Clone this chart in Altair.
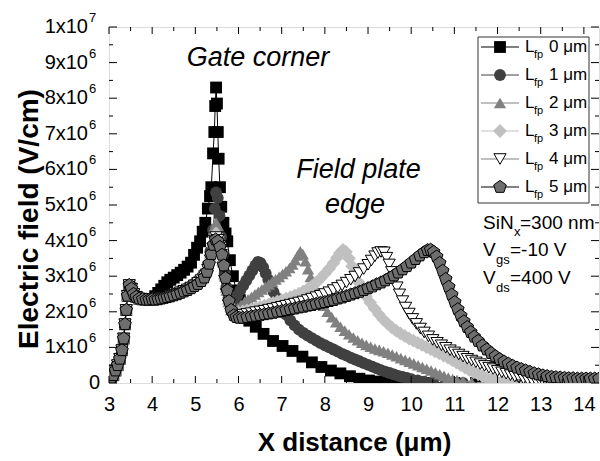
import altair as alt
import pandas as pd

# ---------------- data (electric field in units of 1e6 V/cm) ----------------
HEAD = [(3.0, 0.08), (3.05, 0.14), (3.1, 0.22), (3.15, 0.35), (3.2, 0.5), (3.25, 0.68),
        (3.3, 0.92), (3.34, 1.25), (3.37, 1.65), (3.4, 2.05), (3.43, 2.45), (3.47, 2.75),
        (3.52, 2.65), (3.57, 2.5), (3.63, 2.42), (3.7, 2.37), (3.78, 2.35), (3.86, 2.34),
        (3.93, 2.34), (4.0, 2.35)]

LFP0 = [(4.07, 2.44), (4.14, 2.53), (4.21, 2.63), (4.28, 2.73), (4.35, 2.83), (4.42, 2.9),
        (4.5, 2.96), (4.58, 3.03), (4.66, 3.1), (4.74, 3.18), (4.82, 3.27), (4.9, 3.38),
        (4.97, 3.6), (5.04, 3.8), (5.11, 3.98), (5.17, 4.25), (5.23, 4.5), (5.29, 4.9),
        (5.34, 5.25), (5.37, 5.5), (5.41, 6.45), (5.44, 7.05), (5.46, 7.78), (5.48, 8.3),
        (5.5, 7.85), (5.52, 7.05), (5.54, 6.3), (5.57, 5.5), (5.6, 4.95), (5.65, 4.5),
        (5.7, 4.2), (5.74, 3.98), (5.8, 3.45), (5.87, 3.0), (5.95, 2.6), (6.03, 2.33),
        (6.14, 1.95), (6.25, 1.75), (6.4, 1.58), (6.58, 1.38), (6.8, 1.18), (7.02, 1.04),
        (7.25, 0.9), (7.48, 0.74), (7.7, 0.58), (7.92, 0.45), (8.14, 0.35), (8.36, 0.27),
        (8.58, 0.19), (8.8, 0.12), (9.02, 0.07), (9.25, 0.04), (9.5, 0.02), (9.75, 0.01),
        (10.0, 0.0), (10.5, 0.0), (11.0, 0.0), (11.5, 0.0), (12.0, 0.0), (12.5, 0.0),
        (13.0, 0.0), (13.5, 0.0), (14.0, 0.0), (14.3, 0.0)]

LFP1 = [(4.07, 2.36), (4.14, 2.38), (4.21, 2.4), (4.28, 2.42), (4.35, 2.44), (4.42, 2.47),
        (4.5, 2.5), (4.58, 2.54), (4.66, 2.58), (4.74, 2.62), (4.82, 2.67), (4.9, 2.73),
        (4.98, 2.8), (5.06, 2.88), (5.14, 2.97), (5.22, 3.1), (5.29, 3.32), (5.35, 3.7),
        (5.41, 4.3), (5.45, 4.9), (5.48, 5.35), (5.52, 5.2), (5.56, 4.7), (5.6, 4.1),
        (5.64, 3.6), (5.68, 3.1), (5.72, 2.7), (5.77, 2.4), (5.83, 2.25), (5.9, 2.32),
        (5.97, 2.46), (6.04, 2.6), (6.11, 2.74), (6.18, 2.88), (6.25, 3.02), (6.32, 3.16),
        (6.39, 3.3), (6.45, 3.4), (6.51, 3.37), (6.57, 3.25), (6.63, 3.08), (6.69, 2.9),
        (6.75, 2.72), (6.81, 2.56), (6.88, 2.4), (6.95, 2.24), (7.02, 2.08), (7.1, 1.92),
        (7.2, 1.76), (7.3, 1.62), (7.4, 1.5), (7.5, 1.41), (7.6, 1.33), (7.7, 1.26),
        (7.8, 1.19), (7.9, 1.12), (8.0, 1.06), (8.1, 1.0), (8.2, 0.94), (8.3, 0.88),
        (8.4, 0.82), (8.5, 0.77), (8.6, 0.71), (8.7, 0.66), (8.8, 0.61), (8.9, 0.56),
        (9.0, 0.51), (9.1, 0.46), (9.2, 0.41), (9.3, 0.36), (9.4, 0.32), (9.5, 0.28),
        (9.6, 0.24), (9.7, 0.2), (9.8, 0.17), (9.9, 0.14), (10.0, 0.11), (10.15, 0.07),
        (10.3, 0.04), (10.5, 0.02), (10.8, 0.01), (11.2, 0.0), (11.8, 0.0), (12.5, 0.0),
        (13.2, 0.0), (14.0, 0.0), (14.3, 0.0)]

LFP2 = [(4.07, 2.36), (4.14, 2.37), (4.21, 2.39), (4.28, 2.41), (4.35, 2.43), (4.42, 2.46),
        (4.5, 2.49), (4.58, 2.53), (4.66, 2.57), (4.74, 2.61), (4.82, 2.66), (4.9, 2.72),
        (4.98, 2.79), (5.06, 2.87), (5.14, 2.96), (5.22, 3.08), (5.29, 3.28), (5.35, 3.6),
        (5.41, 4.05), (5.45, 4.4), (5.48, 4.5), (5.52, 4.42), (5.56, 4.15), (5.6, 3.8),
        (5.64, 3.4), (5.68, 3.0), (5.72, 2.6), (5.77, 2.28), (5.83, 2.05), (5.9, 2.0),
        (5.98, 2.1), (6.06, 2.2), (6.14, 2.28), (6.22, 2.35), (6.3, 2.42), (6.38, 2.49),
        (6.46, 2.56), (6.54, 2.63), (6.62, 2.7), (6.7, 2.77), (6.78, 2.84), (6.86, 2.91),
        (6.94, 2.98), (7.02, 3.06), (7.1, 3.14), (7.18, 3.23), (7.25, 3.33), (7.31, 3.45),
        (7.37, 3.58), (7.43, 3.7), (7.49, 3.62), (7.55, 3.42), (7.61, 3.2), (7.67, 2.98),
        (7.74, 2.76), (7.81, 2.55), (7.89, 2.35), (7.97, 2.17), (8.06, 2.0), (8.16, 1.85),
        (8.26, 1.71), (8.36, 1.58), (8.46, 1.47), (8.56, 1.37), (8.66, 1.28), (8.76, 1.2),
        (8.86, 1.13), (8.96, 1.07), (9.06, 1.02), (9.16, 0.97), (9.26, 0.93), (9.36, 0.89),
        (9.46, 0.85), (9.56, 0.8), (9.66, 0.75), (9.76, 0.7), (9.86, 0.65), (9.96, 0.6),
        (10.06, 0.55), (10.16, 0.5), (10.26, 0.45), (10.36, 0.4), (10.46, 0.35), (10.56, 0.3),
        (10.66, 0.25), (10.76, 0.2), (10.86, 0.15), (10.96, 0.11), (11.06, 0.08), (11.2, 0.05),
        (11.4, 0.02), (11.7, 0.01), (12.0, 0.0), (12.6, 0.0), (13.2, 0.0), (13.8, 0.0),
        (14.3, 0.0)]

LFP3 = [(4.07, 2.35), (4.14, 2.37), (4.21, 2.38), (4.28, 2.4), (4.35, 2.42), (4.42, 2.45),
        (4.5, 2.48), (4.58, 2.52), (4.66, 2.56), (4.74, 2.6), (4.82, 2.64), (4.9, 2.7),
        (4.98, 2.76), (5.06, 2.84), (5.14, 2.93), (5.22, 3.04), (5.29, 3.22), (5.35, 3.5),
        (5.41, 3.85), (5.45, 4.1), (5.48, 4.2), (5.52, 4.12), (5.56, 3.92), (5.6, 3.65),
        (5.64, 3.3), (5.68, 2.92), (5.72, 2.55), (5.77, 2.22), (5.83, 2.0), (5.9, 1.95),
        (6.0, 1.98), (6.1, 2.01), (6.2, 2.04), (6.3, 2.07), (6.4, 2.1), (6.5, 2.14),
        (6.6, 2.17), (6.7, 2.21), (6.8, 2.25), (6.9, 2.29), (7.0, 2.33), (7.1, 2.37),
        (7.2, 2.41), (7.3, 2.46), (7.4, 2.51), (7.5, 2.57), (7.6, 2.64), (7.7, 2.72),
        (7.8, 2.82), (7.9, 2.94), (8.0, 3.07), (8.1, 3.21), (8.2, 3.37), (8.28, 3.52),
        (8.35, 3.65), (8.42, 3.74), (8.49, 3.68), (8.56, 3.5), (8.63, 3.28), (8.7, 3.05),
        (8.78, 2.83), (8.86, 2.63), (8.95, 2.44), (9.05, 2.26), (9.15, 2.09), (9.25, 1.93),
        (9.35, 1.79), (9.45, 1.67), (9.55, 1.56), (9.65, 1.47), (9.75, 1.39), (9.85, 1.32),
        (9.95, 1.25), (10.05, 1.19), (10.15, 1.13), (10.25, 1.07), (10.35, 1.01), (10.45, 0.95),
        (10.55, 0.89), (10.65, 0.83), (10.75, 0.77), (10.85, 0.71), (10.95, 0.64), (11.05, 0.57),
        (11.15, 0.5), (11.25, 0.43), (11.35, 0.36), (11.45, 0.3), (11.55, 0.24), (11.65, 0.19),
        (11.75, 0.14), (11.85, 0.1), (11.95, 0.07), (12.1, 0.04), (12.3, 0.02), (12.6, 0.0),
        (13.0, 0.0), (13.5, 0.0), (14.0, 0.0), (14.3, 0.0)]

LFP4 = [(4.07, 2.35), (4.14, 2.36), (4.21, 2.38), (4.28, 2.4), (4.35, 2.42), (4.42, 2.44),
        (4.5, 2.47), (4.58, 2.51), (4.66, 2.55), (4.74, 2.59), (4.82, 2.63), (4.9, 2.68),
        (4.98, 2.74), (5.06, 2.81), (5.14, 2.89), (5.22, 3.0), (5.29, 3.18), (5.35, 3.45),
        (5.41, 3.78), (5.45, 4.0), (5.48, 4.1), (5.52, 4.02), (5.56, 3.85), (5.6, 3.6),
        (5.64, 3.25), (5.68, 2.88), (5.72, 2.5), (5.77, 2.18), (5.83, 1.96), (5.9, 1.89),
        (6.0, 1.9), (6.1, 1.92), (6.2, 1.94), (6.3, 1.96), (6.4, 1.99), (6.5, 2.01),
        (6.6, 2.03), (6.7, 2.06), (6.8, 2.08), (6.9, 2.11), (7.0, 2.14), (7.1, 2.17),
        (7.2, 2.2), (7.3, 2.23), (7.4, 2.26), (7.5, 2.29), (7.6, 2.33), (7.7, 2.37),
        (7.8, 2.41), (7.9, 2.45), (8.0, 2.5), (8.1, 2.55), (8.2, 2.61), (8.3, 2.67),
        (8.4, 2.74), (8.5, 2.82), (8.6, 2.9), (8.7, 2.99), (8.8, 3.09), (8.9, 3.2),
        (9.0, 3.32), (9.08, 3.44), (9.16, 3.56), (9.23, 3.65), (9.3, 3.68), (9.37, 3.67),
        (9.43, 3.52), (9.49, 3.33), (9.55, 3.12), (9.61, 2.9), (9.67, 2.69), (9.73, 2.49),
        (9.8, 2.3), (9.87, 2.12), (9.95, 1.95), (10.03, 1.8), (10.12, 1.66), (10.21, 1.53),
        (10.3, 1.42), (10.4, 1.31), (10.5, 1.21), (10.6, 1.13), (10.7, 1.06), (10.8, 0.99),
        (10.9, 0.92), (11.0, 0.86), (11.1, 0.8), (11.2, 0.74), (11.3, 0.68), (11.4, 0.63),
        (11.5, 0.58), (11.6, 0.53), (11.7, 0.48), (11.8, 0.43), (11.9, 0.39), (12.0, 0.34),
        (12.1, 0.3), (12.2, 0.26), (12.3, 0.22), (12.4, 0.18), (12.5, 0.15), (12.6, 0.12),
        (12.7, 0.09), (12.8, 0.07), (12.9, 0.05), (13.0, 0.03), (13.2, 0.02), (13.5, 0.01),
        (13.9, 0.0), (14.3, 0.0)]

LFP5 = [(4.07, 2.34), (4.14, 2.35), (4.21, 2.37), (4.28, 2.39), (4.35, 2.41), (4.42, 2.43),
        (4.5, 2.46), (4.58, 2.49), (4.66, 2.53), (4.74, 2.57), (4.82, 2.61), (4.9, 2.66),
        (4.98, 2.72), (5.06, 2.78), (5.14, 2.86), (5.21, 2.96), (5.27, 3.12), (5.32, 3.35),
        (5.37, 3.62), (5.42, 3.88), (5.47, 4.03), (5.52, 3.98), (5.57, 3.82), (5.62, 3.6),
        (5.66, 3.3), (5.7, 2.95), (5.74, 2.6), (5.78, 2.3), (5.83, 2.05), (5.89, 1.9),
        (5.95, 1.85), (6.02, 1.83), (6.1, 1.83), (6.2, 1.85), (6.3, 1.87), (6.4, 1.89),
        (6.5, 1.91), (6.6, 1.93), (6.7, 1.95), (6.8, 1.97), (6.9, 2.0), (7.0, 2.02),
        (7.1, 2.05), (7.2, 2.07), (7.3, 2.09), (7.4, 2.12), (7.5, 2.14), (7.6, 2.17),
        (7.7, 2.19), (7.8, 2.22), (7.9, 2.25), (8.0, 2.27), (8.1, 2.3), (8.2, 2.33),
        (8.3, 2.37), (8.4, 2.4), (8.5, 2.44), (8.6, 2.48), (8.7, 2.52), (8.8, 2.56),
        (8.9, 2.61), (9.0, 2.66), (9.1, 2.71), (9.2, 2.77), (9.3, 2.82), (9.4, 2.88),
        (9.5, 2.95), (9.6, 3.02), (9.7, 3.1), (9.8, 3.19), (9.9, 3.28), (10.0, 3.38),
        (10.1, 3.48), (10.2, 3.58), (10.3, 3.67), (10.38, 3.73), (10.45, 3.74), (10.52, 3.68),
        (10.59, 3.55), (10.66, 3.37), (10.73, 3.15), (10.8, 2.92), (10.87, 2.7), (10.94, 2.48),
        (11.01, 2.27), (11.08, 2.07), (11.15, 1.89), (11.22, 1.73), (11.3, 1.57), (11.38, 1.43),
        (11.46, 1.3), (11.55, 1.18), (11.65, 1.05), (11.75, 0.94), (11.85, 0.84), (11.95, 0.75),
        (12.05, 0.67), (12.15, 0.6), (12.25, 0.54), (12.35, 0.48), (12.45, 0.43), (12.55, 0.39),
        (12.65, 0.35), (12.75, 0.31), (12.85, 0.27), (12.95, 0.24), (13.05, 0.21), (13.15, 0.19),
        (13.25, 0.17), (13.35, 0.16), (13.45, 0.15), (13.55, 0.14), (13.65, 0.13), (13.75, 0.13),
        (13.85, 0.12), (13.95, 0.12), (14.05, 0.12), (14.15, 0.12), (14.25, 0.12), (14.35, 0.12)]

SERIES = [LFP0, LFP1, LFP2, LFP3, LFP4, LFP5]
LFP_LABELS = ["0 μm", "1 μm", "2 μm", "3 μm", "4 μm", "5 μm"]

X_MAJOR = [3, 4, 5, 6, 7, 8, 9, 10, 11, 12, 13, 14]
X_MINOR = [3.5, 4.5, 5.5, 6.5, 7.5, 8.5, 9.5, 10.5, 11.5, 12.5, 13.5]
Y_MAJOR = [0, 1, 2, 3, 4, 5, 6, 7, 8, 9, 10]
Y_MINOR = [0.5, 1.5, 2.5, 3.5, 4.5, 5.5, 6.5, 7.5, 8.5, 9.5]
Y_LABEL_BASE = ["1x10", "2x10", "3x10", "4x10", "5x10", "6x10", "7x10", "8x10", "9x10", "1x10"]
Y_LABEL_EXP = ["6", "6", "6", "6", "6", "6", "6", "6", "6", "7"]

# ---------------- layout / style ----------------
W, H = 490, 356
FONT = "Liberation Sans"
XMIN, XMAX = 3, 14.35
PENT = "M0,-1L0.951,-0.309L0.588,0.809L-0.588,0.809L-0.951,-0.309Z"

STYLES = [
    dict(shape="square", fill="#000000", stroke="#000000", sw=0, size=140, line="#000000"),
    dict(shape="circle", fill="#404040", stroke="#404040", sw=0, size=140, line="#404040"),
    dict(shape="triangle-up", fill="#808080", stroke="#808080", sw=0, size=150, line="#808080"),
    dict(shape="diamond", fill="#c0c0c0", stroke="#c0c0c0", sw=0, size=190, line="#c0c0c0"),
    dict(shape="triangle-down", fill="#ffffff", stroke="#000000", sw=1, size=150, line="#808080"),
    dict(shape=PENT, fill="#6e6e6e", stroke="#000000", sw=1, size=175, line="#000000"),
]


def px2x(px):
    return XMIN + px * (XMAX - XMIN) / W


def py2y(py):
    return 10 - py * 10 / H


xscale = alt.Scale(domain=[XMIN, XMAX], nice=False, zero=False)
yscale = alt.Scale(domain=[0, 10], nice=False, zero=False)
x_axis = alt.Axis(values=X_MAJOR, labelFont=FONT, labelFontSize=20, labelColor="black",
                  labelPadding=11, ticks=False, tickSize=0, domain=False, grid=False,
                  labelFlush=False, labelOverlap=False,
                  title="X distance (μm)", titleFont=FONT, titleFontSize=26,
                  titleFontWeight="bold", titleColor="black", titlePadding=15)


def X(f="x"):
    return alt.X(f"{f}:Q", scale=xscale, axis=x_axis)


def Y(f="y"):
    return alt.Y(f"{f}:Q", scale=yscale, axis=None)


layers = []

# data series
for i, tail in enumerate(SERIES):
    pts = HEAD + tail
    df = pd.DataFrame({"x": [p[0] for p in pts], "y": [p[1] for p in pts],
                       "k": list(range(len(pts)))})
    st = STYLES[i]
    layers.append(alt.Chart(df).mark_line(color=st["line"], strokeWidth=1, clip=True)
                  .encode(x=X(), y=Y(), order="k:Q"))
    layers.append(alt.Chart(df).mark_point(shape=st["shape"], filled=True, fill=st["fill"],
                                           stroke=st["stroke"], strokeWidth=st["sw"],
                                           size=st["size"], opacity=1, clip=True)
                  .encode(x=X(), y=Y()))


# inward ticks
def hticks(vals, y0, y1):
    return alt.Chart(pd.DataFrame({"x": vals})).mark_rule(color="black", strokeWidth=1).encode(
        x=X(), y=alt.value(y0), y2=alt.value(y1))


def vticks(vals, x0, x1):
    return alt.Chart(pd.DataFrame({"y": vals})).mark_rule(color="black", strokeWidth=1).encode(
        y=Y(), x=alt.value(x0), x2=alt.value(x1))


layers += [hticks(X_MAJOR, H, H - 7), hticks(X_MINOR, H, H - 4),
           hticks(X_MAJOR, 0, 7), hticks(X_MINOR, 0, 4),
           vticks(Y_MAJOR, 0, 8), vticks(Y_MINOR, 0, 4),
           vticks(Y_MAJOR, W, W - 8), vticks(Y_MINOR, W, W - 4)]

# y tick labels with superscripts
ylab = pd.DataFrame({"y": Y_MAJOR[1:], "base": Y_LABEL_BASE, "exp": Y_LABEL_EXP})
layers.append(alt.Chart(ylab).mark_text(align="right", baseline="middle", font=FONT,
                                        fontSize=20, color="black")
              .encode(y=Y(), x=alt.value(-21), text="base:N"))
layers.append(alt.Chart(ylab).mark_text(align="left", baseline="middle", font=FONT,
                                        fontSize=13, color="black", dy=-9)
              .encode(y=Y(), x=alt.value(-20), text="exp:N"))
layers.append(alt.Chart(pd.DataFrame({"y": [0], "t": ["0"]}))
              .mark_text(align="right", baseline="middle", font=FONT, fontSize=20, color="black")
              .encode(y=Y(), x=alt.value(-9), text="t:N"))

# y title
layers.append(alt.Chart(pd.DataFrame({"t": ["Electric field (V/cm)"]}))
              .mark_text(angle=270, align="center", baseline="middle", font=FONT, fontSize=28,
                         fontWeight="bold", color="black")
              .encode(x=alt.value(-79), y=alt.value(H / 2 + 14), text="t:N"))

# annotations
ann_big = pd.DataFrame({"x": [px2x(149), px2x(249.5), px2x(246)],
                        "y": [py2y(31), py2y(143), py2y(178)],
                        "t": ["Gate corner", "Field plate", "edge"]})
layers.append(alt.Chart(ann_big).mark_text(align="center", baseline="middle", font=FONT,
                                           fontSize=27, fontStyle="italic", color="black")
              .encode(x=X(), y=Y(), text="t:N"))

cond_main = pd.DataFrame({"x": [px2x(374), px2x(411), px2x(374), px2x(401), px2x(374), px2x(401)],
                          "y": [py2y(196), py2y(196), py2y(223), py2y(223), py2y(251), py2y(251)],
                          "t": ["SiN", "=300 nm", "V", "=-10 V", "V", "=400 V"]})
cond_sub = pd.DataFrame({"x": [px2x(405), px2x(387), px2x(387)],
                         "y": [py2y(205), py2y(233), py2y(261)],
                         "t": ["x", "gs", "ds"]})

# legend box
box = pd.DataFrame({"x": [px2x(369)], "x2": [px2x(480)], "y": [py2y(10)], "y2": [py2y(176)]})
layers.append(alt.Chart(box).mark_rect(fill="white", stroke="#333333", strokeWidth=1)
              .encode(x=X(), x2="x2:Q", y=Y(), y2="y2:Q"))

for i, st in enumerate(STYLES):
    yy = py2y(20 + 28 * i)
    seg = pd.DataFrame({"x": [px2x(372)], "x2": [px2x(410)], "y": [yy]})
    layers.append(alt.Chart(seg).mark_rule(color=st["line"], strokeWidth=1)
                  .encode(x=X(), x2="x2:Q", y=Y()))
    mk = pd.DataFrame({"x": [px2x(391)], "y": [yy]})
    layers.append(alt.Chart(mk).mark_point(shape=st["shape"], filled=True, fill=st["fill"],
                                           stroke=st["stroke"], strokeWidth=st["sw"],
                                           size=st["size"], opacity=1)
                  .encode(x=X(), y=Y()))

leg_L = pd.DataFrame({"x": [px2x(416)] * 6, "y": [py2y(20 + 28 * i) for i in range(6)],
                      "t": ["L"] * 6})
leg_fp = pd.DataFrame({"x": [px2x(425)] * 6, "y": [py2y(28 + 28 * i) for i in range(6)],
                       "t": ["fp"] * 6})
leg_um = pd.DataFrame({"x": [px2x(440)] * 6, "y": [py2y(20 + 28 * i) for i in range(6)],
                       "t": LFP_LABELS})
for d, fs in [(leg_L, 17), (leg_um, 17), (leg_fp, 11)]:
    layers.append(alt.Chart(d).mark_text(align="left", baseline="middle", font=FONT,
                                         fontSize=fs, color="black")
                  .encode(x=X(), y=Y(), text="t:N"))

for d, fs in [(cond_main, 19), (cond_sub, 13)]:
    layers.append(alt.Chart(d).mark_text(align="left", baseline="middle", font=FONT,
                                         fontSize=fs, color="black")
                  .encode(x=X(), y=Y(), text="t:N"))

chart = alt.layer(*layers).properties(
    width=W, height=H,
    autosize=alt.AutoSizeParams(type="none"),
    padding={"left": 109, "top": 27, "right": 1, "bottom": 78},
).configure_view(stroke="black", strokeWidth=1.5).configure(background="white")

chart.save("out.html", embed_options={"renderer": "svg", "actions": False})
